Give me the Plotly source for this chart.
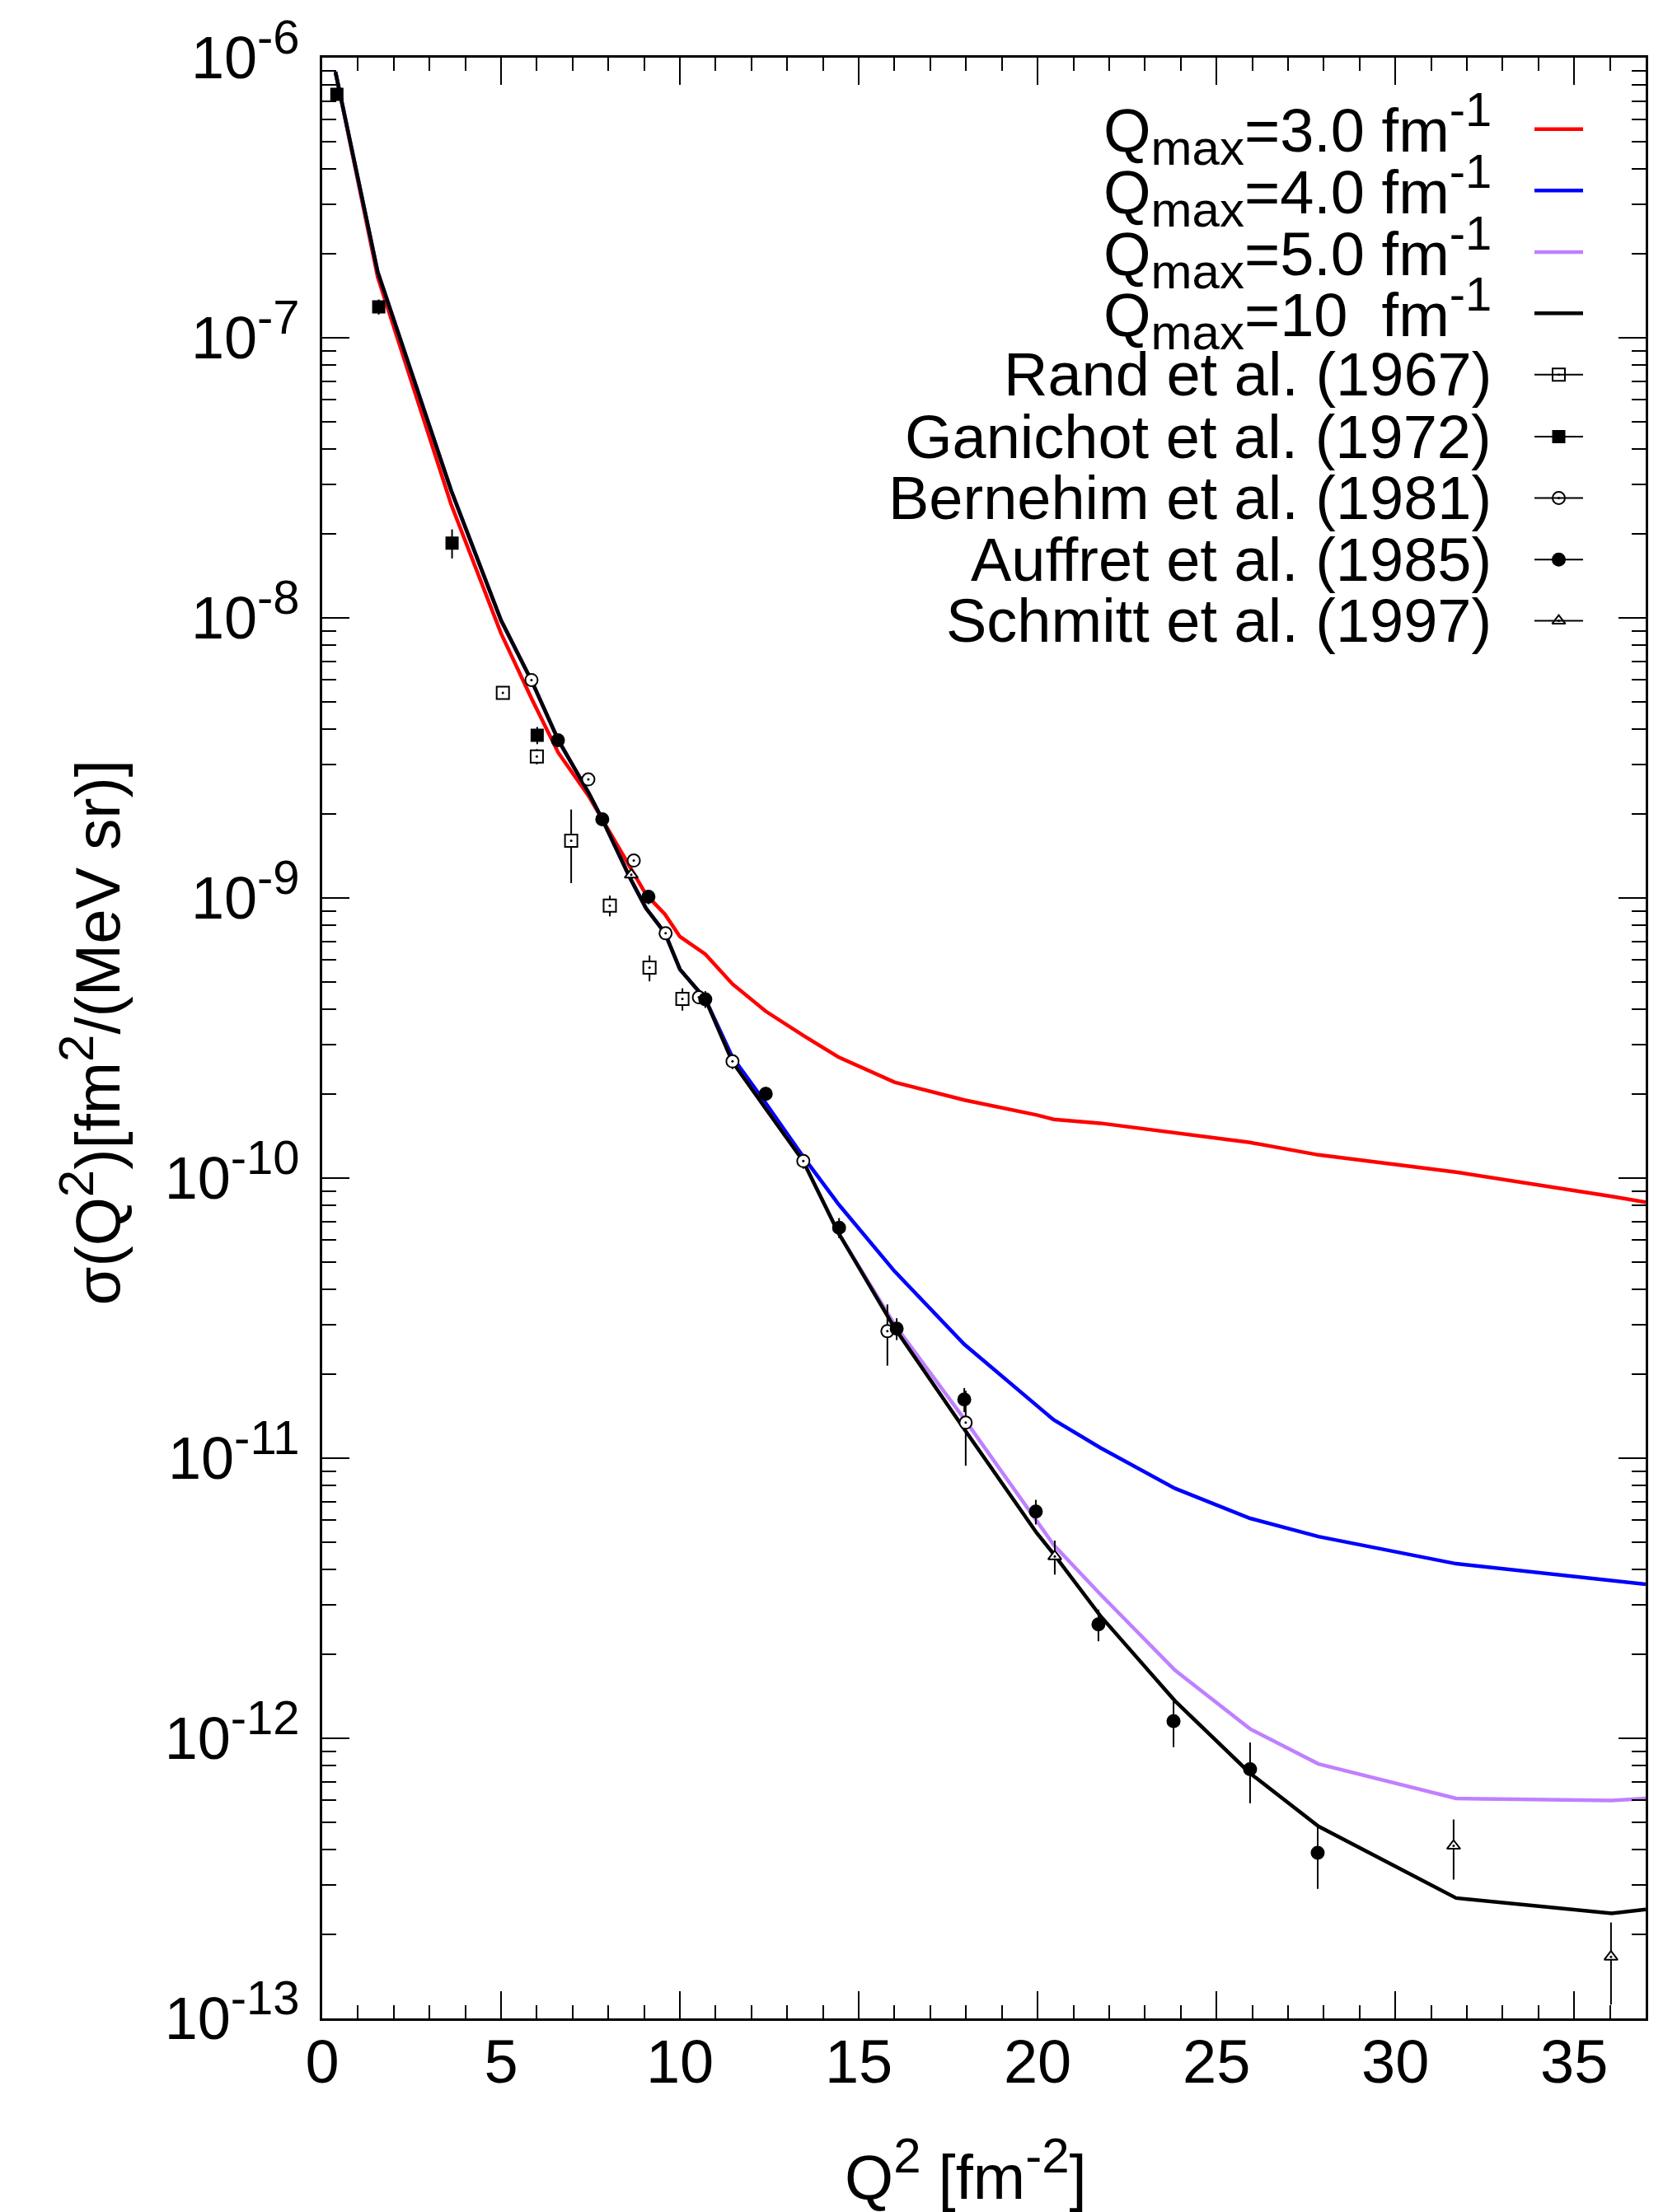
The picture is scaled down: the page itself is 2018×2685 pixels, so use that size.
import plotly.graph_objects as go

# ---------------- data ----------------
q2_curve = [0.37, 1.55, 3.6, 5.0, 5.87, 6.6, 7.46, 7.83, 8.59, 9.05, 9.58, 10.0, 10.71,
            11.47, 12.4, 13.43, 14.44, 16.0, 17.95, 19.97, 20.45, 21.75, 23.84, 25.94,
            27.85, 31.7, 36.05, 37.0]
sig_q3 = [8.9e-7, 1.65e-7, 2.55e-8, 8.8e-9, 5.1e-9, 3.3e-9, 2.3e-9, 1.9e-9, 1.3e-9, 1.03e-9,
          8.75e-10, 7.28e-10, 6.3e-10, 4.93e-10, 3.94e-10, 3.24e-10, 2.7e-10, 2.2e-10, 1.9e-10,
          1.68e-10, 1.62e-10, 1.57e-10, 1.45e-10, 1.34e-10, 1.21e-10, 1.05e-10, 8.6e-11, 8.2e-11]
sig_q4 = [8.9e-7, 1.72e-7, 2.86e-8, 9.8e-9, 5.9e-9, 3.66e-9, 2.36e-9, 1.91e-9, 1.19e-9, 9.2e-10,
          7.5e-10, 5.56e-10, 4.36e-10, 2.7e-10, 1.85e-10, 1.2e-10, 8.05e-11, 4.65e-11, 2.55e-11,
          1.55e-11, 1.37e-11, 1.09e-11, 7.8e-12, 6.1e-12, 5.25e-12, 4.2e-12, 3.67e-12, 3.55e-12]
sig_q5 = [8.9e-7, 1.72e-7, 2.86e-8, 9.8e-9, 5.9e-9, 3.66e-9, 2.36e-9, 1.91e-9, 1.19e-9, 9.2e-10,
          7.5e-10, 5.56e-10, 4.36e-10, 2.6e-10, 1.77e-10, 1.16e-10, 6.35e-11, 3.0e-11, 1.38e-11,
          6.0e-12, 4.9e-12, 3.27e-12, 1.75e-12, 1.08e-12, 8.1e-13, 6.1e-13, 6.0e-13, 6.1e-13]
sig_q10 = [8.9e-7, 1.72e-7, 2.86e-8, 9.8e-9, 5.9e-9, 3.66e-9, 2.36e-9, 1.91e-9, 1.19e-9, 9.2e-10,
           7.5e-10, 5.56e-10, 4.36e-10, 2.6e-10, 1.77e-10, 1.16e-10, 6.35e-11, 2.92e-11, 1.27e-11,
           5.42e-12, 4.55e-12, 2.74e-12, 1.36e-12, 7.5e-13, 4.85e-13, 2.69e-13, 2.37e-13, 2.45e-13]

rand_x = [5.05, 6.0, 6.96, 8.04, 9.15, 10.07]
rand_y = [5.4e-9, 3.2e-9, 1.6e-9, 9.4e-10, 5.64e-10, 4.36e-10]
rand_e = [0.25e-9, 0.2e-9, 0.47e-9, 0.08e-9, 0.06e-9, 0.04e-9]

gan_x = [0.41, 1.58, 3.63, 6.01]
gan_y = [7.4e-7, 1.29e-7, 1.85e-8, 3.81e-9]
gan_e = [0.3e-7, 0.08e-7, 0.22e-8, 0.27e-9]

ber_x = [5.85, 7.44, 8.71, 9.6, 10.53, 11.47, 13.45, 15.8, 17.99]
ber_y = [6.0e-9, 2.65e-9, 1.36e-9, 7.48e-10, 4.42e-10, 2.61e-10, 1.15e-10, 2.84e-11, 1.34e-11]
ber_e = [0.15e-9, 0.07e-9, 0.04e-9, 0.2e-10, 0.1e-10, 0.16e-10, 0.07e-10, 0.7e-11, 0.4e-11]

auf_x = [6.59, 7.83, 9.12, 10.71, 12.4, 14.45, 16.06, 17.95, 19.95, 21.7, 23.8, 25.94, 27.83]
auf_y = [3.66e-9, 1.91e-9, 1.01e-9, 4.35e-10, 2.0e-10, 6.65e-11, 2.9e-11, 1.62e-11, 6.45e-12,
         2.55e-12, 1.15e-12, 7.76e-13, 3.9e-13]
auf_e = [0.1e-9, 0.08e-9, 0.06e-9, 0.3e-10, 0.12e-10, 0.55e-11, 0.26e-11, 0.16e-11, 0.65e-12,
         0.33e-12, 0.22e-12, 1.9e-13, 1.0e-13]

sch_x = [8.64, 20.48, 31.63, 36.03]
sch_y = [1.21e-9, 4.46e-12, 4.13e-13, 1.66e-13]
sch_e = [0.04e-9, 0.62e-12, 1.0e-13, 0.54e-13]

y_tick_vals = [1e-13, 1e-12, 1e-11, 1e-10, 1e-9, 1e-8, 1e-7, 1e-6]
y_tick_exps = ["-13", "-12", "-11", "-10", "-9", "-8", "-7", "-6"]
y_minor_vals = [k * 10.0 ** e for e in range(-13, -6) for k in range(2, 10)]

curve_labels = [("3.0 ", ""), ("4.0 ", ""), ("5.0 ", ""), ("10\u00a0\u00a0", "")]
data_labels = ["Rand et al. (1967)", "Ganichot et al. (1972)", "Bernehim et al. (1981)",
               "Auffret et al. (1985)", "Schmitt et al. (1997)"]

# ---------------- figure ----------------
W, H = 2018, 2685
L, R, T, B = 391, 21, 65, 235
PW, PH = W - L - R, H - T - B
FONT = "Liberation Sans, Arial, Helvetica, sans-serif"

def px(xf):
    return (xf - L) / PW

def py(yf):
    return (H - B - yf) / PH

def sup(t, s):
    return "<sup><span style='font-size:%dpx'>%s</span></sup>" % (s, t)

def sub(t, s):
    return "<sub><span style='font-size:%dpx'>%s</span></sub>" % (s, t)

y_tick_text = ["10" + sup(e, 58) for e in y_tick_exps]

fig = go.Figure()

curve_colors = ["#ff0000", "#0000ff", "#bf80ff", "#000000"]
for ys, col in zip([sig_q3, sig_q4, sig_q5, sig_q10], curve_colors):
    fig.add_trace(go.Scatter(x=q2_curve, y=ys, mode="lines",
                             line=dict(color=col, width=4.5), showlegend=False,
                             hoverinfo="skip"))

def data_trace(x, y, e, symbol, fill, size):
    fig.add_trace(go.Scatter(
        x=x, y=y, mode="markers", showlegend=False,
        error_y=dict(type="data", array=e, symmetric=True, thickness=2, width=0, color="black"),
        marker=dict(symbol=symbol, size=size, color=fill,
                    line=dict(color="black", width=2))))
    if fill == "white":
        fig.add_trace(go.Scatter(x=x, y=y, mode="markers", showlegend=False,
                                 marker=dict(symbol="circle", size=3, color="black")))

data_styles = [("square", "white", 15), ("square", "black", 14), ("circle", "white", 15),
               ("circle", "black", 15), ("triangle-up", "white", 14)]
for (x, y, e), st in zip([(rand_x, rand_y, rand_e), (gan_x, gan_y, gan_e), (ber_x, ber_y, ber_e),
                          (auf_x, auf_y, auf_e), (sch_x, sch_y, sch_e)], data_styles):
    data_trace(x, y, e, *st)

# ---------------- legend (manual, symbols on the right) ----------------
leg_y = [152, 226.5, 301.5, 376, 450.6, 526, 600.6, 675.6, 750]
txt_x = px(1812)
seg_x0, seg_x1, mk_x = px(1862), px(1921), px(1891.5)
legend_texts = ["Q" + sub("max", 60) + "=" + v + "fm" + sup("-1", 58) for v, _ in curve_labels]
legend_texts += data_labels
annotations = []
shapes = []
for i, lab in enumerate(legend_texts):
    yy = py(leg_y[i])
    annotations.append(dict(x=txt_x, y=yy, xref="paper", yref="paper", text=lab,
                            showarrow=False, xanchor="right", yanchor="middle",
                            font=dict(family=FONT, size=74, color="black")))
    if i < 4:
        shapes.append(dict(type="line", xref="paper", yref="paper", x0=seg_x0, x1=seg_x1,
                           y0=yy, y1=yy, line=dict(color=curve_colors[i], width=4.5)))
    else:
        shapes.append(dict(type="line", xref="paper", yref="paper", x0=seg_x0, x1=seg_x1,
                           y0=yy, y1=yy, line=dict(color="black", width=2)))

for j, st in enumerate(data_styles):
    yy = py(leg_y[4 + j])
    fig.add_trace(go.Scatter(x=[mk_x], y=[yy], xaxis="x2", yaxis="y2", mode="markers",
                             showlegend=False, cliponaxis=False,
                             marker=dict(symbol=st[0], size=st[2], color=st[1],
                                         line=dict(color="black", width=2))))
    if st[1] == "white":
        fig.add_trace(go.Scatter(x=[mk_x], y=[yy], xaxis="x2", yaxis="y2", mode="markers",
                                 showlegend=False, cliponaxis=False,
                                 marker=dict(symbol="circle", size=3, color="black")))

annotations.append(dict(x=px(1172), y=py(2634), xref="paper", yref="paper",
                        text="Q" + sup("2", 60) + " [fm" + sup("-2", 60) + "]", showarrow=False,
                        xanchor="center", yanchor="middle",
                        font=dict(family=FONT, size=76, color="black")))
annotations.append(dict(x=px(110), y=py(1251), xref="paper", yref="paper",
                        text="\u03c3(Q" + sup("2", 60) + ")[fm" + sup("2", 60) + "/(MeV sr)]",
                        showarrow=False,
                        textangle=-90, xanchor="center", yanchor="middle",
                        font=dict(family=FONT, size=76, color="black")))

fig.update_layout(
    width=W, height=H,
    margin=dict(l=L, r=R, t=T, b=B, pad=0),
    paper_bgcolor="white", plot_bgcolor="white",
    showlegend=False,
    font=dict(family=FONT, size=74, color="black"),
    xaxis=dict(range=[0, 37], showgrid=False, zeroline=False, showline=True,
               linecolor="black", linewidth=3, mirror="allticks",
               ticks="inside", ticklen=33, tickwidth=2, tickcolor="black",
               tickmode="linear", tick0=0, dtick=5, ticklabelstandoff=-14,
               tickfont=dict(family=FONT, size=74, color="black"),
               minor=dict(ticks="inside", ticklen=16, tickwidth=2, tickcolor="black",
                          dtick=1, tick0=0, showgrid=False)),
    yaxis=dict(type="log", range=[-13, -6], showgrid=False, zeroline=False, showline=True,
               linecolor="black", linewidth=3, mirror="allticks",
               ticks="inside", ticklen=33, tickwidth=2, tickcolor="black",
               tickmode="array", tickvals=y_tick_vals, ticktext=y_tick_text,
               ticklabelstandoff=10,
               tickfont=dict(family=FONT, size=72, color="black"),
               minor=dict(ticks="inside", ticklen=17, tickwidth=2, tickcolor="black",
                          tickmode="array", tickvals=y_minor_vals, showgrid=False)),
    xaxis2=dict(overlaying="x", range=[0, 1], visible=False, anchor="y2", fixedrange=True),
    yaxis2=dict(overlaying="y", range=[0, 1], visible=False, anchor="x2", fixedrange=True),
    annotations=annotations,
    shapes=shapes,
)

fig.write_html("out.html")
